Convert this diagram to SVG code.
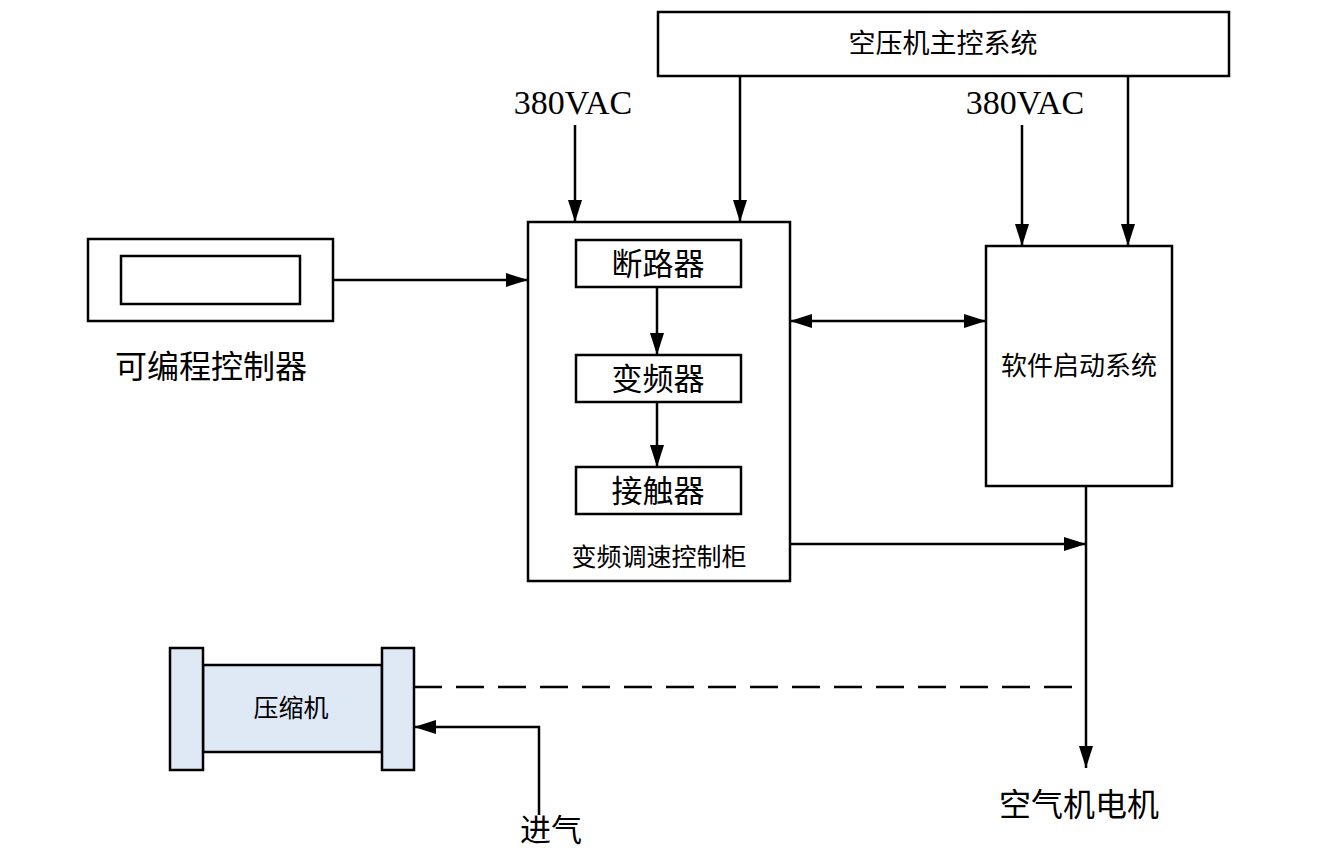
<svg xmlns="http://www.w3.org/2000/svg" width="1329" height="851" viewBox="0 0 1329 851">
<style>
.b{fill:#fff;stroke:#000;stroke-width:2.5}
.l{stroke:#000;stroke-width:2.5;fill:none}
.t{font-family:"Noto Sans CJK SC","Noto Sans CJK JP",sans-serif;text-anchor:middle;fill:#000}
.s{font-family:"Liberation Serif",serif;text-anchor:middle;font-size:34px}
</style>
<defs>
<marker id="a" markerWidth="22" markerHeight="14" refX="22" refY="7" orient="auto-start-reverse" markerUnits="userSpaceOnUse"><path d="M0,0L22,7L0,14Z" fill="#000"/></marker>
</defs>
<rect width="1329" height="851" fill="#fff"/>
<g id="main"><rect class="b" x="658" y="12" width="571" height="64"/><text class="t" x="943" y="53" font-size="27">空压机主控系统</text></g>
<g id="v1"><text class="s" x="573" y="114">380VAC</text></g>
<g id="v2"><text class="s" x="1025" y="114">380VAC</text></g>
<g id="cab"><rect class="b" x="528" y="222" width="262" height="359"/><text class="t" x="659" y="566" font-size="25">变频调速控制柜</text></g>
<g id="brk"><rect class="b" x="576" y="240" width="165" height="47"/><text class="t" x="658" y="275" font-size="31">断路器</text></g>
<g id="vfd"><rect class="b" x="576" y="355" width="165" height="47"/><text class="t" x="658" y="390" font-size="31">变频器</text></g>
<g id="ctc"><rect class="b" x="576" y="467" width="165" height="47"/><text class="t" x="658" y="502" font-size="31">接触器</text></g>
<g id="plc"><rect class="b" x="88" y="239" width="245" height="82"/><rect class="b" x="121" y="256" width="179" height="48"/><text class="t" x="211" y="378" font-size="32">可编程控制器</text></g>
<g id="soft"><rect class="b" x="986" y="246" width="186" height="240"/><text class="t" x="1079" y="375" font-size="26">软件启动系统</text></g>
<g id="comp"><rect x="203" y="665" width="179" height="87" fill="#dfe8f5" stroke="#000" stroke-width="2.5"/><rect x="170" y="648" width="33" height="122" fill="#dfe8f5" stroke="#000" stroke-width="2.5"/><rect x="382" y="648" width="32" height="122" fill="#dfe8f5" stroke="#000" stroke-width="2.5"/><text class="t" x="291" y="717" font-size="25">压缩机</text></g>
<g id="motor"><text class="t" x="1079" y="816" font-size="32">空气机电机</text></g>
<g id="inlet"><text class="t" x="551" y="841" font-size="31">进气</text></g>
<g id="conn">
<path class="l" d="M575,125V222" marker-end="url(#a)"/>
<path class="l" d="M740,76V222" marker-end="url(#a)"/>
<path class="l" d="M1022,125V246" marker-end="url(#a)"/>
<path class="l" d="M1128,76V246" marker-end="url(#a)"/>
<path class="l" d="M657,287V355" marker-end="url(#a)"/>
<path class="l" d="M657,402V467" marker-end="url(#a)"/>
<path class="l" d="M333,280H528" marker-end="url(#a)"/>
<path class="l" d="M790,321H986" marker-start="url(#a)" marker-end="url(#a)"/>
<path class="l" d="M790,544H1086" marker-end="url(#a)"/>
<path class="l" d="M1086,486V768" marker-end="url(#a)"/>
<path class="l" d="M414,687H1086" stroke-dasharray="28,14"/>
<path class="l" d="M539,815V727H414" marker-end="url(#a)"/>
</g>
</svg>
